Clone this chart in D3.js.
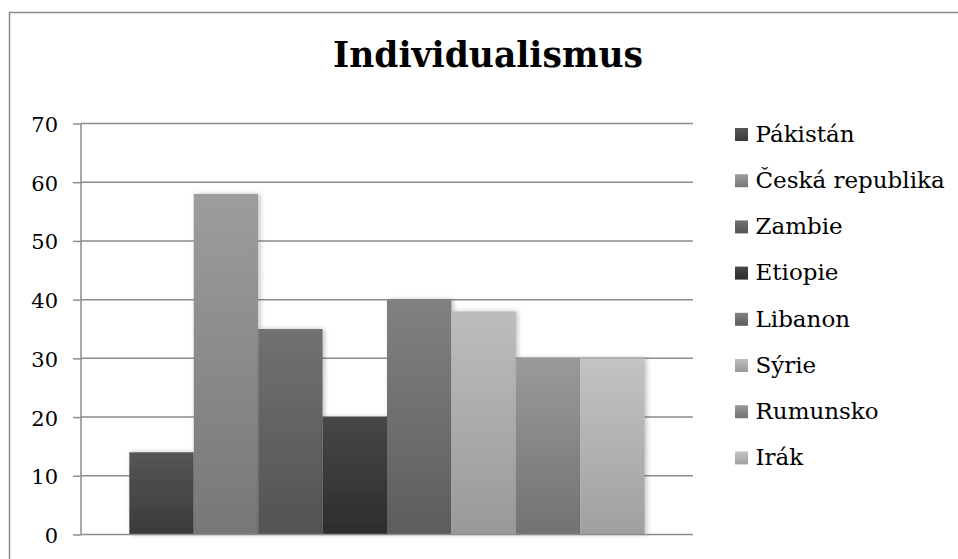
<!DOCTYPE html>
<html>
<head>
<meta charset="utf-8">
<script src="https://cdn.jsdelivr.net/npm/d3@7/dist/d3.min.js"></script>
<style>
  html, body { margin: 0; padding: 0; background: #fff; }
  svg { display: block; }
</style>
</head>
<body>
<svg id="chart" width="958" height="559"></svg>
<script>
// Hofstede individualism index by country
const countries = ["Pákistán", "Česká republika", "Zambie", "Etiopie", "Libanon", "Sýrie", "Rumunsko", "Irák"];
const values = [14, 58, 35, 20, 40, 38, 30, 30];
const yTicks = [0, 10, 20, 30, 40, 50, 60, 70];
const title = "Individualismus";

// grey shade per country: [top, bottom] of the vertical gradient
const shades = [
  ["#565656", "#3a3a3a"],
  ["#9d9d9d", "#777777"],
  ["#717171", "#535353"],
  ["#474747", "#2d2d2d"],
  ["#818181", "#5d5d5d"],
  ["#bdbdbd", "#999999"],
  ["#9a9a9a", "#727272"],
  ["#c3c3c3", "#a0a0a0"]
];

const svg = d3.select("#chart");
const serif = "Georgia, 'DejaVu Serif', 'Liberation Serif', serif";

const plot = { left: 81, right: 693, top: 123.5, bottom: 534.5 };

// chart frame
svg.append("rect")
  .attr("x", 9.5).attr("y", 12.5)
  .attr("width", 1000).attr("height", 600)
  .attr("fill", "none").attr("stroke", "#8c8c8c").attr("stroke-width", 1.5);

const defs = svg.append("defs");
shades.forEach((s, i) => {
  const g = defs.append("linearGradient").attr("id", "grad" + i)
    .attr("x1", 0).attr("y1", 0).attr("x2", 0).attr("y2", 1);
  g.append("stop").attr("offset", "0%").attr("stop-color", s[0]);
  g.append("stop").attr("offset", "100%").attr("stop-color", s[1]);
});
const blur = defs.append("filter").attr("id", "shadow")
  .attr("x", "-20%").attr("y", "-10%").attr("width", "150%").attr("height", "120%");
blur.append("feGaussianBlur").attr("in", "SourceAlpha").attr("stdDeviation", 2.5);
blur.append("feOffset").attr("dx", 2).attr("dy", 0).attr("result", "off");
blur.append("feComponentTransfer").append("feFuncA").attr("type", "linear").attr("slope", 0.25);
const merge = blur.append("feMerge");
merge.append("feMergeNode");
merge.append("feMergeNode").attr("in", "SourceGraphic");

const y = d3.scaleLinear().domain([0, 70]).range([plot.bottom, plot.top]);

// single category group with 8 series, gap width 150%
const outer = d3.scaleBand().domain(["all"]).range([plot.left, plot.right])
  .paddingInner(0).paddingOuter(0);
const groupW = outer.bandwidth();
const barW = groupW / (countries.length + 1.5);
const x = d3.scaleBand().domain(countries)
  .range([plot.left + barW * 0.75, plot.left + barW * 0.75 + barW * countries.length])
  .padding(0);

// gridlines
const yAxis = d3.axisLeft(y).tickValues(yTicks).tickSize(8).tickFormat(d3.format("d"));
svg.append("g").selectAll("line.grid").data(yTicks.filter(d => d > 0)).join("line")
  .attr("x1", plot.left).attr("x2", plot.right)
  .attr("y1", d => y(d)).attr("y2", d => y(d))
  .attr("stroke", "#8c8c8c").attr("stroke-width", 1.5);

// bars
svg.append("g").selectAll("rect").data(countries).join("rect")
  .attr("x", d => x(d))
  .attr("y", (d, i) => y(values[i]))
  .attr("width", x.bandwidth())
  .attr("height", (d, i) => y(0) - y(values[i]))
  .attr("fill", (d, i) => `url(#grad${i})`)
  .attr("filter", "url(#shadow)");

// y axis
const ga = svg.append("g").attr("transform", `translate(${plot.left},0)`).call(yAxis);
ga.select(".domain").attr("stroke", "#8c8c8c").attr("stroke-width", 1.5)
  .attr("d", `M0,${plot.top}V${plot.bottom}`);
ga.selectAll(".tick line").attr("stroke", "#8c8c8c").attr("stroke-width", 1.5);
ga.selectAll(".tick text")
  .attr("x", -23).attr("dy", "0.38em")
  .attr("font-family", serif).attr("font-size", 21).attr("fill", "#000");

// baseline
svg.append("line")
  .attr("x1", plot.left).attr("x2", plot.right)
  .attr("y1", y(0)).attr("y2", y(0))
  .attr("stroke", "#8c8c8c").attr("stroke-width", 1.5);

// title
svg.append("text")
  .attr("x", 488).attr("y", 67)
  .attr("text-anchor", "middle")
  .attr("font-family", serif).attr("font-weight", "bold").attr("font-size", 34.5)
  .attr("fill", "#000")
  .text(title);

// legend
const legend = svg.append("g");
const rows = legend.selectAll("g").data(countries).join("g")
  .attr("transform", (d, i) => `translate(735,${134.5 + i * 46.2})`);
rows.append("rect")
  .attr("x", 0).attr("y", -6.5).attr("width", 13).attr("height", 13)
  .attr("fill", (d, i) => `url(#grad${i})`);
rows.append("text")
  .attr("x", 20.5).attr("y", 7.2)
  .attr("font-family", serif).attr("font-size", 23).attr("fill", "#000")
  .text(d => d);
</script>
</body>
</html>
